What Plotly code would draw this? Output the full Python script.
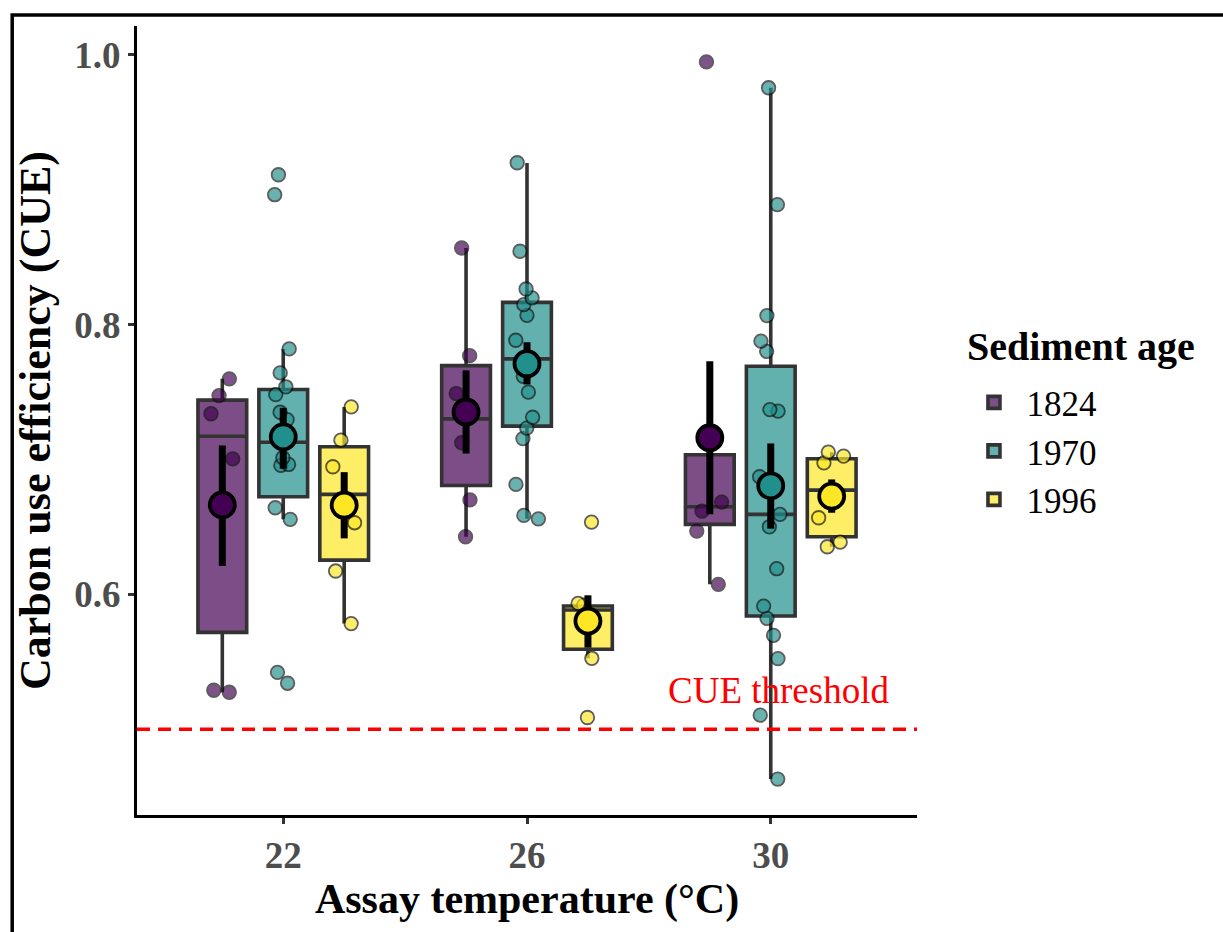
import plotly.graph_objects as go

# ---------------- data ----------------
temps = ["22", "26", "30"]
ages = ["1824", "1970", "1996"]

# box-plot summaries per sediment age, ordered by assay temperature 22, 26, 30
q1_1824 = [0.5718, 0.6807, 0.6519]
med_1824 = [0.7172, 0.7301, 0.6650]
q3_1824 = [0.7440, 0.7696, 0.7035]
lw_1824 = [0.5274, 0.6427, 0.6074]
uw_1824 = [0.7598, 0.8568, 0.7035]

q1_1970 = [0.6724, 0.7247, 0.5839]
med_1970 = [0.7128, 0.7746, 0.6593]
q3_1970 = [0.7519, 0.8165, 0.7691]
lw_1970 = [0.6556, 0.6560, 0.4630]
uw_1970 = [0.7820, 0.9199, 0.9756]

q1_1996 = [0.6254, 0.5593, 0.6427]
med_1996 = [0.6741, 0.5884, 0.6773]
q3_1996 = [0.7094, 0.5914, 0.7005]
lw_1996 = [0.5783, 0.5526, 0.6353]
uw_1996 = [0.7390, 0.5933, 0.7054]

# means with error-bar ends
mean_1824 = [0.6663, 0.7352, 0.7161]
hi_1824 = [0.7104, 0.7661, 0.7728]
lo_1824 = [0.6210, 0.7044, 0.6594]

mean_1970 = [0.7168, 0.7710, 0.6805]
hi_1970 = [0.7383, 0.7869, 0.7119]
lo_1970 = [0.6931, 0.7556, 0.6487]

mean_1996 = [0.6661, 0.5802, 0.6728]
hi_1996 = [0.6906, 0.5993, 0.6852]
lo_1996 = [0.6415, 0.5605, 0.6605]

# individual observations (jittered points)
pts_1824_22 = [0.7598, 0.7474, 0.7339, 0.7005, 0.5289, 0.5274]
pts_1824_26 = [0.8568, 0.7770, 0.7489, 0.7124, 0.6700, 0.6427]
pts_1824_30 = [0.9948, 0.6684, 0.6617, 0.6469, 0.6074]

pts_1970_22 = [0.9111, 0.8963, 0.7820, 0.7642, 0.7539, 0.7481, 0.7350, 0.7296,
               0.7013, 0.6963, 0.6956, 0.6642, 0.6556, 0.5422, 0.5341]
pts_1970_26 = [0.9200, 0.8544, 0.8264, 0.8198, 0.8148, 0.8069, 0.7884, 0.7617,
               0.7499, 0.7313, 0.7233, 0.7155, 0.6815, 0.6585, 0.6560]
pts_1970_30 = [0.9756, 0.8889, 0.8067, 0.7877, 0.7802, 0.7370, 0.7358, 0.6872,
               0.6593, 0.6501, 0.6190, 0.5913, 0.5822, 0.5696, 0.5524, 0.5104, 0.4630]

pts_1996_22 = [0.7390, 0.7143, 0.6946, 0.6531, 0.6173, 0.5783]
pts_1996_26 = [0.6536, 0.5933, 0.5919, 0.5526, 0.5087]
pts_1996_30 = [0.7054, 0.7025, 0.6975, 0.6568, 0.6387, 0.6353]

threshold = 0.5

# ---------------- styling ----------------
colors = {"1824": "#440154", "1970": "#21908C", "1996": "#FDE725"}
fills = {"1824": "rgba(68,1,84,0.7)", "1970": "rgba(33,144,140,0.7)",
         "1996": "rgba(253,231,37,0.7)"}
dodge = {"1824": -0.25, "1970": 0.0, "1996": 0.25}
FONT = "Liberation Serif"

stats = {
    "1824": (q1_1824, med_1824, q3_1824, lw_1824, uw_1824, mean_1824, hi_1824, lo_1824,
             [pts_1824_22, pts_1824_26, pts_1824_30]),
    "1970": (q1_1970, med_1970, q3_1970, lw_1970, uw_1970, mean_1970, hi_1970, lo_1970,
             [pts_1970_22, pts_1970_26, pts_1970_30]),
    "1996": (q1_1996, med_1996, q3_1996, lw_1996, uw_1996, mean_1996, hi_1996, lo_1996,
             [pts_1996_22, pts_1996_26, pts_1996_30]),
}

fig = go.Figure()
cat_pos = [i + 1 for i in range(len(temps))]

# boxes
for age in ages:
    q1, med, q3, lw, uw, mn, hi, lo, pts = stats[age]
    xs = [p + dodge[age] for p in cat_pos]
    fig.add_trace(go.Box(
        x=xs, q1=q1, median=med, q3=q3, lowerfence=lw, upperfence=uw,
        name=age, width=0.2, whiskerwidth=0, boxpoints=False,
        fillcolor=fills[age], line=dict(color="#333333", width=3.6),
        showlegend=True, hoverinfo="skip",
    ))

# jittered points
for age in ages:
    q1, med, q3, lw, uw, mn, hi, lo, pts = stats[age]
    xs, ys = [], []
    for p, arr in zip(cat_pos, pts):
        xs += [p + dodge[age]] * len(arr)
        ys += arr
    fig.add_trace(go.Box(
        x=xs, y=ys, width=0.2, boxpoints="all", jitter=0.55, pointpos=0,
        fillcolor="rgba(0,0,0,0)", line=dict(color="rgba(0,0,0,0)", width=0),
        whiskerwidth=0,
        marker=dict(size=13.5, color=colors[age], opacity=0.68,
                    line=dict(color="#111111", width=1.8)),
        showlegend=False, hoverinfo="skip",
    ))

# means with error bars
for age in ages:
    q1, med, q3, lw, uw, mn, hi, lo, pts = stats[age]
    xs = [p + dodge[age] for p in cat_pos]
    fig.add_trace(go.Scatter(
        x=xs, y=mn, mode="markers",
        marker=dict(size=25, color=colors[age], line=dict(color="black", width=3.8)),
        error_y=dict(type="data", symmetric=False,
                     array=[h - m for h, m in zip(hi, mn)],
                     arrayminus=[m - l for m, l in zip(mn, lo)],
                     color="black", thickness=7, width=0),
        showlegend=False, hoverinfo="skip",
    ))

# threshold line + label
fig.add_shape(type="line", xref="paper", x0=0, x1=1, yref="y", y0=threshold, y1=threshold,
              line=dict(color="red", width=3.6, dash="13px,8px"))
fig.add_annotation(x=3.03, y=0.529, xref="x", yref="y", text="CUE threshold",
                   showarrow=False, font=dict(family=FONT, size=37, color="red"))

# legend title
fig.add_annotation(x=1.0615, y=0.594, xref="paper", yref="paper", xanchor="left",
                   yanchor="middle", text="Sediment age", showarrow=False,
                   font=dict(family=FONT, size=40, color="black", weight="bold"))

# outer frame
fig.add_shape(type="rect", xref="paper", yref="paper",
              x0=-0.160, x1=1.6, y0=-0.5, y1=1.0139,
              line=dict(color="black", width=3.5), fillcolor="rgba(0,0,0,0)", layer="above")

fig.update_layout(
    width=1223, height=932,
    margin=dict(l=137, r=306, t=26, b=117),
    paper_bgcolor="white", plot_bgcolor="white",
    boxmode="overlay",
    font=dict(family=FONT, color="black"),
    xaxis=dict(
        range=[0.4, 3.6], tickvals=cat_pos, ticktext=temps,
        showgrid=False, zeroline=False, showline=True, linecolor="black", linewidth=3,
        ticks="outside", ticklen=6, tickwidth=2.5, tickcolor="#333333",
        tickfont=dict(family=FONT, size=37, color="#4D4D4D", weight="bold"),
        title=dict(text="Assay temperature (°C)", standoff=8,
                   font=dict(family=FONT, size=42, color="black", weight="bold")),
    ),
    yaxis=dict(
        range=[0.4364, 1.0214], tickvals=[0.6, 0.8, 1.0], ticktext=["0.6", "0.8", "1.0"],
        showgrid=False, zeroline=False, showline=True, linecolor="black", linewidth=3,
        ticks="outside", ticklen=6, tickwidth=2.5, tickcolor="#333333",
        tickfont=dict(family=FONT, size=37, color="#4D4D4D", weight="bold"),
        title=dict(text="Carbon use efficiency (CUE)", standoff=10,
                   font=dict(family=FONT, size=44, color="black", weight="bold")),
    ),
    legend=dict(
        x=1.057, xanchor="left", y=0.56, yanchor="top",
        font=dict(family=FONT, size=35, color="black"),
        itemwidth=55,
        bgcolor="rgba(0,0,0,0)", tracegroupgap=0,
    ),
)

fig.write_html("out.html")
